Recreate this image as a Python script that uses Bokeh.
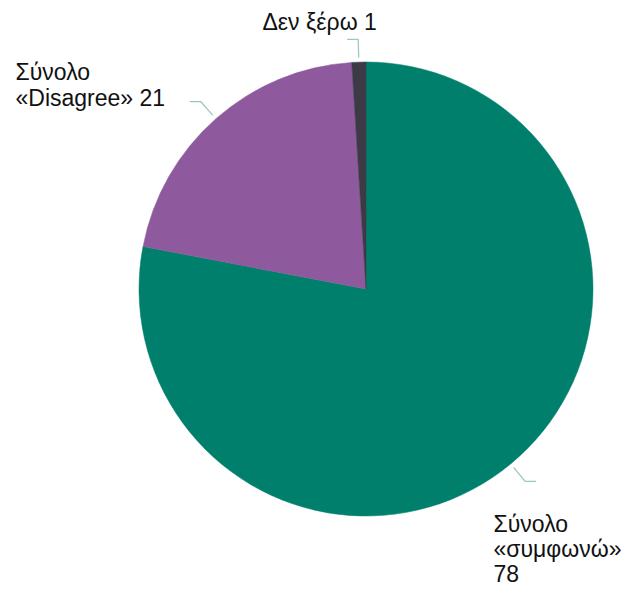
import numpy as np
from bokeh.plotting import figure
from bokeh.models import Range1d, ColumnDataSource
from bokeh.core.properties import value
from bokeh.embed import file_html
from bokeh.resources import INLINE

# ---- data ----
categories = ["Σύνολο «συμφωνώ»", "Σύνολο «Disagree»", "Δεν ξέρω"]
values = [78, 21, 1]
label_lines = [
    ["Σύνολο", "«συμφωνώ»", "78"],
    ["Σύνολο", "«Disagree» 21"],
    ["Δεν ξέρω 1"],
]
colors = ["#00806C", "#8E5A9D", "#3B3A46"]

# ---- layout (screen-like coords: data y = -screen y) ----
W, H = 630, 587
cx, cy, R = 365.5, -288.5, 227
label_pos = [(493, [-523, -548, -573]), (15, [-71, -97]), (262, [-21])]

p = figure(width=W, height=H, output_backend="svg", toolbar_location=None,
           x_range=Range1d(0, W), y_range=Range1d(-H, 0),
           min_border=0)
p.axis.visible = False
p.grid.visible = False
p.outline_line_color = None
p.background_fill_color = "white"

vals = np.array(values, dtype=float)
frac = vals / vals.sum()
cum_end = np.cumsum(frac) * 2 * np.pi
cum_start = cum_end - frac * 2 * np.pi
start = np.pi / 2 - cum_start
end = np.pi / 2 - cum_end

src = ColumnDataSource(dict(x=[cx] * 3, y=[cy] * 3, start=start, end=end,
                            color=colors, cat=categories))
p.wedge(x="x", y="y", radius=R, start_angle="start", end_angle="end",
        direction="clock", fill_color="color", line_color="color",
        line_width=0.5, source=src)

# leader lines from mid angles
mid = np.pi / 2 - (cum_start + cum_end) / 2
for a in mid:
    x1, y1 = cx + 1.02 * R * np.cos(a), cy + 1.02 * R * np.sin(a)
    x2, y2 = cx + 1.10 * R * np.cos(a), cy + 1.10 * R * np.sin(a)
    d = 11 if np.cos(a) > 0 else -11
    p.line([x1, x2, x2 + d], [y1, y2, y2], line_color="#9DC6C2", line_width=1.3)

# labels
for (lx, ys), lines in zip(label_pos, label_lines):
    p.text(x=[lx] * len(lines), y=ys, text=lines,
           text_font=value("Liberation Sans"), text_font_size="23px",
           text_color="#111111", text_baseline="alphabetic", text_align="left")

open("out.html", "w").write(file_html(p, INLINE))
